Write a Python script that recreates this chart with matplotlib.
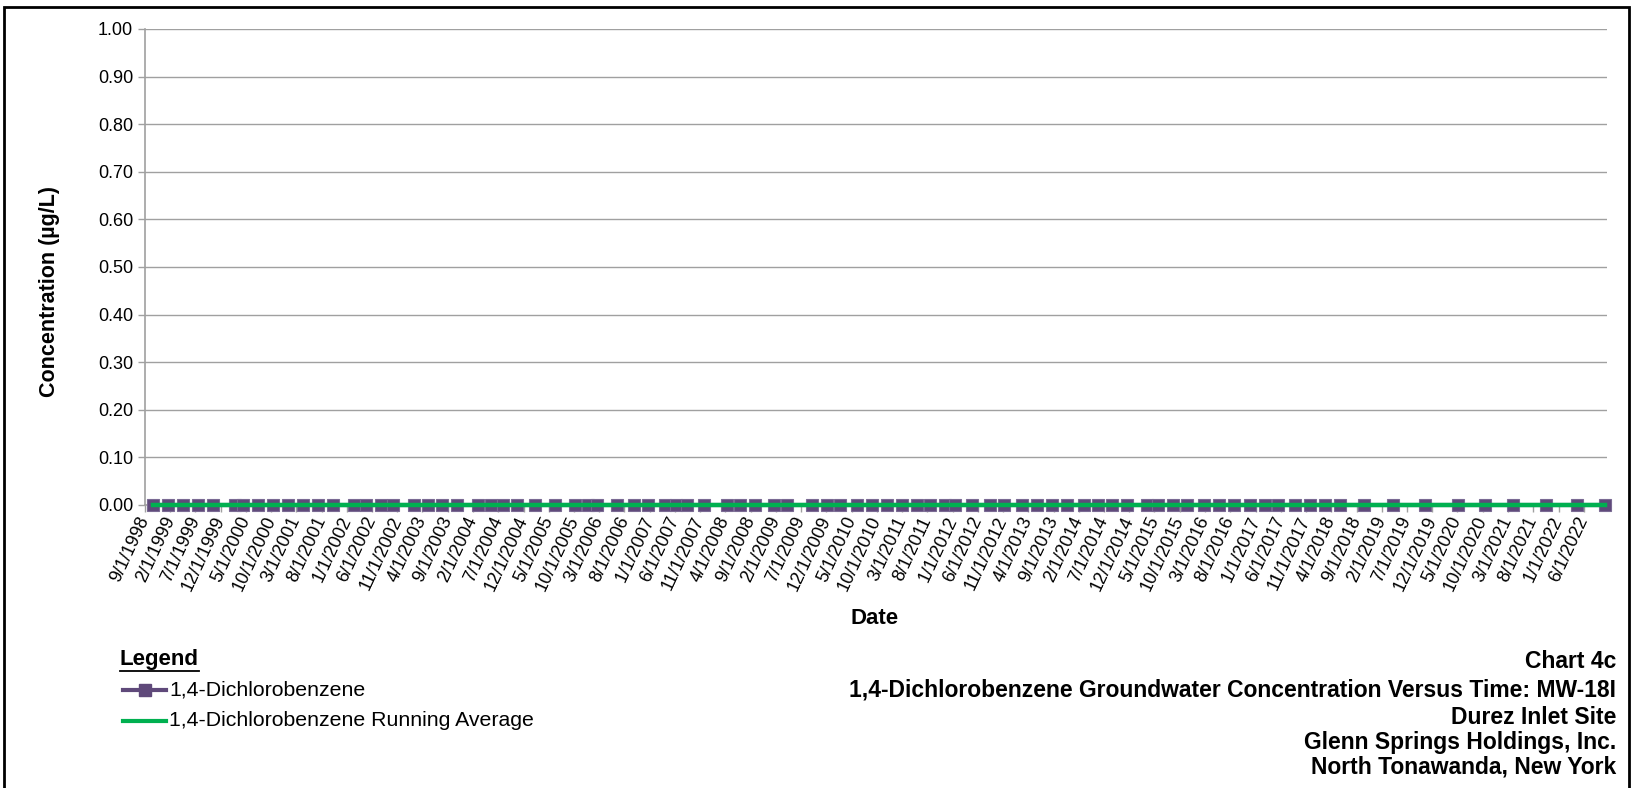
import matplotlib
matplotlib.use("Agg")
import matplotlib.pyplot as plt
from matplotlib.lines import Line2D
from matplotlib.patches import Rectangle
import pandas as pd

plt.rcParams['font.family'] = ['Liberation Sans', 'DejaVu Sans']

# ---------------- data ----------------
sample_dates = [
    "1998-10-19", "1999-01-19", "1999-04-19", "1999-07-19", "1999-10-16",
    "2000-02-25", "2000-04-16", "2000-07-16", "2000-10-13", "2001-01-13",
    "2001-04-13", "2001-07-10", "2001-10-10", "2002-02-10", "2002-04-28",
    "2002-07-22", "2002-10-07", "2003-02-07", "2003-05-04", "2003-07-25",
    "2003-10-25", "2004-03-01", "2004-05-16", "2004-08-01", "2004-10-19",
    "2005-02-10", "2005-06-07", "2005-10-07", "2005-12-25", "2006-02-16",
    "2006-06-19", "2006-09-28", "2006-12-21", "2007-04-01", "2007-06-10",
    "2007-08-10", "2007-11-25", "2008-04-10", "2008-06-28", "2008-09-28",
    "2009-01-16", "2009-04-04", "2009-09-04", "2009-12-04", "2010-02-22",
    "2010-06-01", "2010-09-01", "2010-12-01", "2011-02-28", "2011-05-28",
    "2011-08-16", "2011-11-16", "2012-01-16", "2012-04-25", "2012-08-13",
    "2012-11-07", "2013-02-22", "2013-05-22", "2013-08-19", "2013-11-19",
    "2014-02-28", "2014-05-28", "2014-08-16", "2014-11-19", "2015-03-16",
    "2015-05-25", "2015-08-22", "2015-11-13", "2016-02-22", "2016-05-22",
    "2016-08-25", "2016-11-28", "2017-02-28", "2017-05-16", "2017-08-28",
    "2017-11-25", "2018-02-25", "2018-05-25", "2018-10-13", "2019-04-10",
    "2019-10-20", "2020-05-06", "2020-10-15", "2021-04-01", "2021-10-18",
    "2022-04-21", "2022-10-10",
]
dcb_conc = [0.0] * len(sample_dates)          # 1,4-Dichlorobenzene (µg/L)
dcb_running_avg = [0.0] * len(sample_dates)   # running average (µg/L)

tick_dates = pd.date_range("1998-09-01", "2022-06-01", freq="5MS")
y_ticks = [0.0, 0.1, 0.2, 0.3, 0.4, 0.5, 0.6, 0.7, 0.8, 0.9, 1.0]

series_label = "1,4-Dichlorobenzene"
avg_label = "1,4-Dichlorobenzene Running Average"
title_lines = [
    "Chart 4c",
    "1,4-Dichlorobenzene Groundwater Concentration Versus Time: MW-18I",
    "Durez Inlet Site",
    "Glenn Springs Holdings, Inc.",
    "North Tonawanda, New York",
]

# ---------------- figure ----------------
W, H = 1633, 788
fig = plt.figure(figsize=(W / 100, H / 100), dpi=100)
ax = fig.add_axes([145 / W, 1 - 505 / H, (1607 - 145) / W, (505 - 29) / H])

dates = pd.to_datetime(sample_dates)
purple = "#5F497A"
purple_edge = "#7A6A93"
green = "#00B050"

ax.plot(dates, dcb_conc, color=purple, lw=3, marker="s", ms=9.3,
        mfc=purple, mec=purple_edge, mew=0.8, clip_on=False, zorder=3)
ax.plot(dates, dcb_running_avg, color=green, lw=3.2, clip_on=False, zorder=4)

ax.set_xlim(pd.Timestamp("1998-09-01"), pd.Timestamp("2022-10-20"))
ax.set_ylim(0, 1.0)
ax.set_yticks(y_ticks)
ax.set_yticklabels([f"{v:.2f}" for v in y_ticks], fontsize=13)
ax.yaxis.grid(True, color="#a0a0a0", lw=1)
ax.set_axisbelow(True)

ax.set_xticks(tick_dates)
ax.set_xticklabels([f"{d.month}/{d.day}/{d.year}" for d in tick_dates],
                   rotation=65, ha="right", va="center",
                   rotation_mode="anchor", fontsize=13)

for s in ["top", "right"]:
    ax.spines[s].set_visible(False)
for s in ["left", "bottom"]:
    ax.spines[s].set_color("#a0a0a0")
    ax.spines[s].set_linewidth(1.2)
ax.tick_params(axis="both", colors="#a0a0a0", labelcolor="black", length=5, width=1)
ax.tick_params(axis="x", pad=4)

fig.text(50 / W, 1 - 291 / H, "Concentration (µg/L)", fontsize=15.5,
         fontweight="bold", rotation=90, ha="center", va="center")
fig.text(875 / W, 1 - 619 / H, "Date", fontsize=16, fontweight="bold",
         ha="center", va="center")

# legend
fig.text(120 / W, 1 - 659 / H, "Legend", fontsize=16, fontweight="bold",
         ha="left", va="center")
fig.add_artist(Line2D([120 / W, 199 / W], [1 - 671 / H, 1 - 671 / H],
                      color="black", lw=1.3, transform=fig.transFigure))
fig.add_artist(Line2D([123 / W, 166 / W], [1 - 690 / H, 1 - 690 / H],
                      color=purple, lw=3, transform=fig.transFigure))
fig.add_artist(Line2D([144.5 / W], [1 - 690 / H], color=purple, marker="s",
                      ms=9.3, lw=0, transform=fig.transFigure))
fig.text(169 / W, 1 - 690 / H, series_label, fontsize=15.3, ha="left", va="center")
fig.add_artist(Line2D([123 / W, 166 / W], [1 - 721 / H, 1 - 721 / H],
                      color=green, lw=3, transform=fig.transFigure))
fig.text(169 / W, 1 - 721 / H, avg_label, fontsize=15.3, ha="left", va="center")

# title block
ys = [662, 690, 717, 742, 767]
for t, yy in zip(title_lines, ys):
    fig.text(1616 / W, 1 - yy / H, t, fontsize=16.5, fontweight="bold",
             ha="right", va="center")

# outer border
fig.add_artist(Rectangle((4 / W, -0.05), (1629 - 4) / W, 1.05 - 7 / H,
                         transform=fig.transFigure, fill=False,
                         edgecolor="black", lw=2))

fig.savefig("out.png", dpi=100)
